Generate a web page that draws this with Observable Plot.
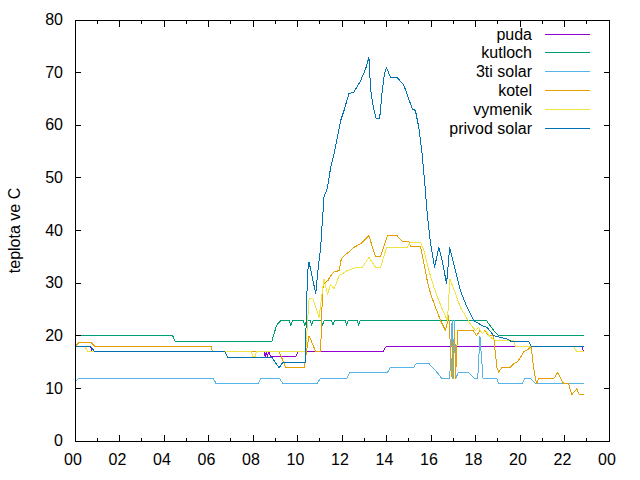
<!DOCTYPE html>
<html><head><meta charset="utf-8">
<script src="https://cdn.jsdelivr.net/npm/d3@7"></script>
<script src="https://cdn.jsdelivr.net/npm/@observablehq/plot@0.6"></script>
<style>html,body{margin:0;padding:0;background:#fff}</style>
</head><body><div id="chart"></div>
<script>
// ---- data (hours of day, temperature in °C) ----
const seriesNames = ["puda", "kutloch", "3ti solar", "kotel", "vymenik", "privod solar"];
const seriesColors = ["#9400d3", "#009e73", "#56b4e9", "#e69f00", "#f0e442", "#0072b2"];

const pudaT = [0, 0.7, 0.75, 8.5, 8.55, 8.6, 8.65, 8.7, 8.8, 9.03, 9.92, 10.03, 13.84, 13.99, 22.78, 22.85];
const pudaV = [18, 18, 17, 17, 16, 17, 16, 17, 16, 16, 16, 17, 17, 18, 18, 17];

const kutlochT = [0, 4.39, 4.5, 8.85, 9.06, 9.25, 9.63, 9.7, 9.77, 10.26, 10.33, 10.4, 10.57, 10.64, 10.71, 11.06, 11.13, 11.2, 11.53, 11.6, 11.67, 12.14, 12.21, 12.28, 12.68, 12.75, 12.82, 18.49, 18.82, 19.03, 22.85];
const kutlochV = [20, 20, 19, 19, 22, 22.9, 22.9, 22, 22.9, 22.9, 22, 22.9, 22.9, 22, 22.9, 22.9, 22, 22.9, 22.9, 22, 22.9, 22.9, 22, 22.9, 22.9, 22, 22.9, 22.9, 21, 20, 20];

const solar3T = [0, 0.15, 6.23, 6.34, 8.22, 8.35, 9.21, 9.34, 10.87, 11.01, 12.21, 12.35, 14.04, 14.18, 15.22, 15.35, 15.89, 16.28, 16.5, 16.84, 16.95, 17.0, 17.05, 17.12, 17.23, 17.69, 17.96, 18.1, 18.2, 18.34, 18.97, 19.04, 20.09, 20.2, 20.5, 20.69, 22.85];
const solar3V = [11.2, 11.8, 11.8, 10.9, 10.9, 11.8, 11.8, 10.9, 10.9, 11.8, 11.8, 13, 13, 14, 14, 14.8, 14.8, 13, 11.8, 11.8, 22.9, 11.8, 22.9, 12, 13, 13, 11.8, 11.8, 20, 11.8, 11.8, 10.9, 10.9, 11.8, 11.8, 10.9, 10.9];

const kotelT = [0, 0.2, 0.7, 0.88, 6.11, 6.18, 9.17, 9.48, 10.3, 10.42, 10.52, 10.82, 11.04, 11.12, 11.17, 11.27, 11.37, 11.49, 11.64, 11.87, 11.97, 12.09, 12.31, 12.54, 12.84, 13.21, 13.5, 13.74, 14.04, 14.48, 14.68, 15.0, 15.08, 15.53, 15.68, 15.83, 15.98, 16.2, 16.43, 16.65, 16.8, 16.95, 17.06, 17.1, 17.2, 17.9, 18.05, 18.2, 18.32, 18.43, 18.58, 18.81, 18.96, 19.04, 19.19, 19.57, 19.72, 19.87, 20.01, 20.16, 20.39, 20.5, 20.57, 20.65, 20.74, 20.84, 21.51, 21.69, 21.96, 22.18, 22.33, 22.55, 22.67, 22.85];
const kotelV = [18, 18.8, 18.8, 18, 18, 17, 17, 13.9, 13.9, 17.5, 20, 17, 17, 28, 29.9, 30.2, 30.5, 31.4, 32.1, 32.4, 34.6, 35.2, 35.9, 36.8, 37.5, 39, 35.1, 35.1, 39, 39, 38, 38, 37, 37, 33.7, 30.5, 28, 25.4, 22.9, 21, 23.8, 11.8, 21, 11.8, 21, 21, 20, 21, 20.4, 21, 20, 20, 14, 13.1, 14, 14, 14.7, 15, 15.8, 16.9, 17.5, 18, 15.3, 12.8, 10.9, 11.8, 11.8, 13, 10.9, 10.9, 8.8, 9.9, 8.8, 8.8];

const vymenikT = [0, 0.43, 0.58, 7.91, 8.0, 8.1, 8.15, 10.37, 10.52, 10.7, 10.97, 11.19, 11.35, 11.49, 11.64, 11.87, 12.24, 12.69, 12.91, 13.21, 13.51, 13.74, 14.0, 14.93, 15.08, 15.53, 15.68, 15.9, 16.13, 16.35, 16.57, 16.74, 16.85, 17.1, 17.32, 17.55, 17.77, 18.0, 18.14, 18.3, 18.45, 18.67, 18.9, 19.71, 19.79, 22.4, 22.55, 22.85];
const vymenikV = [18, 18, 17, 17, 16, 16, 17, 17, 27, 27, 23.5, 30.8, 27.9, 29.8, 28.9, 31.4, 32.4, 33, 33, 34.9, 33, 33, 36.8, 36.8, 37.8, 37.8, 36.2, 32.4, 29.2, 26.7, 24.4, 22.9, 30.8, 28, 25.4, 23.8, 22.2, 21, 21.6, 20.4, 21, 19.7, 19.1, 19.1, 18, 18, 17, 17];

const privodT = [0, 0.7, 0.88, 6.74, 6.86, 8.85, 9.17, 9.33, 10.34, 10.45, 10.52, 10.82, 10.92, 11.04, 11.12, 11.19, 11.35, 11.49, 11.64, 11.79, 11.94, 12.09, 12.31, 12.54, 12.84, 13.06, 13.21, 13.29, 13.41, 13.54, 13.69, 13.81, 13.91, 14.0, 14.18, 14.48, 14.78, 15.0, 15.16, 15.3, 15.45, 15.6, 15.71, 15.83, 15.98, 16.16, 16.35, 16.5, 16.7, 16.84, 17.1, 17.32, 17.62, 17.92, 18.3, 18.52, 18.82, 19.42, 19.57, 20.39, 20.5, 22.85];
const privodV = [18, 18, 17, 17, 15.9, 15.9, 13.9, 14.9, 14.9, 32, 34, 28, 32.4, 36.8, 41.9, 46.3, 48.2, 52, 54.6, 57.7, 60.9, 62.8, 66, 66.3, 68.5, 70.7, 72.9, 66.6, 63.4, 61.2, 61.2, 66.6, 69.8, 71, 69.1, 69.1, 67.6, 65, 63.1, 62.8, 59.6, 54.6, 49.5, 43.2, 37.5, 33, 36.8, 34.3, 29.9, 36.8, 32.4, 28.6, 25.4, 22.9, 21.9, 21.6, 20, 19.4, 19, 19, 18, 18];

const majorX = [0, 2, 4, 6, 8, 10, 12, 14, 16, 18, 20, 22, 24];
const minorX = [1, 3, 5, 7, 9, 11, 13, 15, 17, 19, 21, 23];
const xTickLabels = ["00", "02", "04", "06", "08", "10", "12", "14", "16", "18", "20", "22", "00"];
const yTicks = [0, 10, 20, 30, 40, 50, 60, 70, 80];
const yLabel = "teplota ve C";

// ---- build ----
const seriesT = [pudaT, kutlochT, solar3T, kotelT, vymenikT, privodT];
const seriesV = [pudaV, kutlochV, solar3V, kotelV, vymenikV, privodV];
const series = seriesNames.map((name, i) => ({
  name, color: seriesColors[i],
  rows: seriesT[i].map((t, j) => ({t, v: seriesV[i][j]}))
}));

const FONT = "'Liberation Sans', Arial, sans-serif";
const crisp = "crispEdges";

const marks = [];
series.forEach(s => marks.push(Plot.line(s.rows, {x: "t", y: "v", stroke: s.color, strokeWidth: 1, shapeRendering: crisp})));
marks.push(
  Plot.frame({stroke: "black", strokeWidth: 1, shapeRendering: crisp}),
  Plot.axisX(majorX, {anchor: "bottom", tickSize: -6, tickFormat: () => "", label: null, shapeRendering: crisp}),
  Plot.axisX(minorX, {anchor: "bottom", tickSize: -3, tickFormat: () => "", label: null, shapeRendering: crisp}),
  Plot.axisX(majorX, {anchor: "top", tickSize: -6, tickFormat: () => "", label: null, shapeRendering: crisp}),
  Plot.axisX(minorX, {anchor: "top", tickSize: -3, tickFormat: () => "", label: null, shapeRendering: crisp}),
  Plot.axisY(yTicks, {anchor: "left", tickSize: -6, tickFormat: () => "", label: null, shapeRendering: crisp}),
  Plot.axisY(yTicks, {anchor: "right", tickSize: -6, tickFormat: () => "", label: null, shapeRendering: crisp}),
  Plot.axisX(majorX, {anchor: "bottom", tickSize: 0, tickPadding: 13, dx: -2, label: null, fill: "black",
    tickFormat: d => xTickLabels[majorX.indexOf(d)]}),
  Plot.axisY(yTicks, {anchor: "left", tickSize: 0, tickPadding: 12, label: null, fill: "black",
    tickFormat: d => String(d)}),
  Plot.text([yLabel], {frameAnchor: "left", text: d => d, rotate: -90, dx: -60, fill: "black",
    fontSize: 16, textAnchor: "middle", lineAnchor: "middle"})
);

const plot = Plot.plot({
  width: 640, height: 480,
  marginLeft: 74.5, marginRight: 31.5, marginTop: 19.5, marginBottom: 39.5,
  x: {domain: [0, 24], label: null},
  y: {domain: [0, 80], label: null},
  style: {fontFamily: FONT, fontSize: "16px", background: "white", color: "black", overflow: "visible"},
  marks
});
document.getElementById("chart").appendChild(plot);

// ---- legend (inside the plot, top right, gnuplot style) ----
const svg = d3.select(plot);
const lg = svg.append("g").attr("font-family", FONT).attr("font-size", 16).attr("fill", "black");
const legTextRight = 532, legX1 = 545, legX2 = 590, legTop = 33.5, legStep = 18.9;
series.forEach((s, i) => {
  const yy = Math.round(legTop + i * legStep) + 0.5;
  lg.append("text").attr("x", legTextRight).attr("y", yy + 5).attr("text-anchor", "end").text(s.name);
  lg.append("line").attr("x1", legX1).attr("x2", legX2).attr("y1", yy).attr("y2", yy)
    .attr("stroke", s.color).attr("stroke-width", 1).attr("shape-rendering", crisp);
});
</script>
</body></html>
